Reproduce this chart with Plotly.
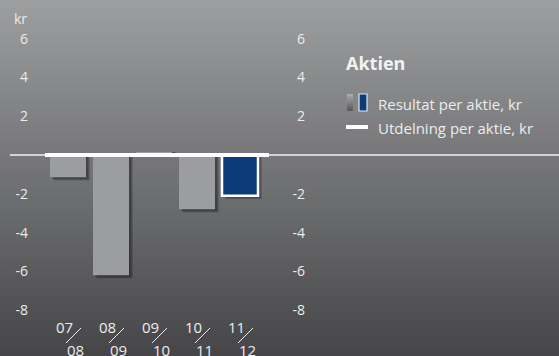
import plotly.graph_objects as go

# ---- data ----
categories = ["07/08", "08/09", "09/10", "10/11", "11/12"]
eps = [-1.15, -6.2, 0.15, -2.8, -2.1]          # Resultat per aktie, kr
dividend = [0, 0, 0, 0, 0]                      # Utdelning per aktie, kr
y_ticks = [6, 4, 2, -2, -4, -6, -8]
y_tick_labels = ["6", "4", "2", "-2", "-4", "-6", "-8"]
unit_label = "kr"
legend_title = "Aktien"
legend_labels = ["Resultat per aktie, kr", "Utdelning per aktie, kr"]

# ---- geometry / style ----
W, H = 559, 356
FONT = "Open Sans"
TXT = "#ececec"
px_x = 43.0
c0 = 68.0
xr = [-c0 / px_x, (W - c0) / px_x]
zero_px = 155.0
px_y = 19.4
yr = [-(H - zero_px) / px_y, zero_px / px_y]
bar_w = 36 / px_x

n = len(categories)
xs = list(range(n))
gray = "#9c9da0"
blue = "#0b3c7a"
colors = [gray] * (n - 1) + [blue]
line_w = [0] * (n - 1) + [2.5]

fig = go.Figure()

# soft shadow behind bars
sh = 3.5 / px_x
fig.add_trace(go.Bar(
    x=xs, y=[v - 0.15 if v < 0 else v for v in eps], base=0,
    width=bar_w, offset=-bar_w / 2 + sh,
    marker=dict(color="rgba(20,20,22,0.35)", line=dict(width=0)),
    hoverinfo="skip", showlegend=False))
fig.add_trace(go.Bar(
    x=xs, y=[v - 0.08 if v < 0 else v for v in eps], base=0,
    width=bar_w, offset=-bar_w / 2 + sh * 0.5,
    marker=dict(color="rgba(20,20,22,0.25)", line=dict(width=0)),
    hoverinfo="skip", showlegend=False))

# EPS bars
fig.add_trace(go.Bar(
    x=xs, y=eps, base=0, width=bar_w, offset=-bar_w / 2,
    marker=dict(color=colors, line=dict(color="white", width=line_w)),
    showlegend=False, name=legend_labels[0]))

# dividend line (per-category segments), on y2 so that axis is drawn
dx, dy = [], []
for i, d in zip(xs, dividend):
    dx += [i - 0.535, i + 0.674, None]
    dy += [d, d, None]
fig.add_trace(go.Scatter(
    x=dx, y=dy, mode="lines", yaxis="y2",
    line=dict(color="white", width=4), showlegend=False, name=legend_labels[1]))

shapes = []
# background gradient
steps = 90
top = (157, 158, 160)
bot = (70, 70, 73)
for k in range(steps):
    t = (k + 0.5) / steps
    c = tuple(round(top[j] + (bot[j] - top[j]) * t) for j in range(3))
    shapes.append(dict(type="rect", xref="paper", yref="paper",
                       x0=0, x1=1, y0=1 - (k + 1) / steps - 0.002, y1=1 - k / steps,
                       fillcolor="rgb(%d,%d,%d)" % c, line=dict(width=0), layer="below"))
# thin zero line
shapes.append(dict(type="line", xref="paper", yref="y", x0=10 / W, x1=1, y0=0, y1=0,
                   line=dict(color="rgba(255,255,255,0.9)", width=1.5), layer="below"))

annotations = []
# category labels with slash
cat_font = dict(family=FONT, size=15, color=TXT)
for i, cat in zip(xs, categories):
    a, b = cat.split("/")
    annotations.append(dict(x=i, y=1 - 327 / H, xref="x", yref="paper", text=a,
                            showarrow=False, xshift=-3.5, font=cat_font,
                            xanchor="center", yanchor="middle"))
    annotations.append(dict(x=i, y=1 - 350 / H, xref="x", yref="paper", text=b,
                            showarrow=False, xshift=7.5, font=cat_font,
                            xanchor="center", yanchor="middle"))
    shapes.append(dict(type="line", xref="x", yref="paper",
                       x0=i - 2 / px_x, x1=i + 13 / px_x, y0=1 - 343 / H, y1=1 - 328 / H,
                       line=dict(color=TXT, width=1)))

# unit label
annotations.append(dict(x=12 / W, y=1 - 19 / H, xref="paper", yref="paper", text=unit_label,
                        showarrow=False, xanchor="left", yanchor="middle",
                        font=dict(family=FONT, size=14, color=TXT)))

# legend
annotations.append(dict(x=344 / W, y=1 - 63 / H, xref="paper", yref="paper",
                        text="<b>%s</b>" % legend_title, showarrow=False,
                        xanchor="left", yanchor="middle",
                        font=dict(family=FONT, size=18, color="#f2f2f2")))
for lbl, yc in zip(legend_labels, [104, 128]):
    annotations.append(dict(x=376 / W, y=1 - yc / H, xref="paper", yref="paper", text=lbl,
                            showarrow=False, xanchor="left", yanchor="middle",
                            font=dict(family=FONT, size=15, color=TXT)))
# gray gradient icon
gs = 8
for k in range(gs):
    t = (k + 0.5) / gs
    v = round(175 + (85 - 175) * t)
    shapes.append(dict(type="rect", xref="paper", yref="paper",
                       x0=347 / W, x1=353 / W,
                       y0=1 - (94 + 17 * (k + 1) / gs) / H, y1=1 - (94 + 17 * k / gs) / H,
                       fillcolor="rgb(%d,%d,%d)" % (v, v, v + 2), line=dict(width=0)))
shapes.append(dict(type="rect", xref="paper", yref="paper",
                   x0=359 / W, x1=367 / W, y0=1 - 111 / H, y1=1 - 94 / H,
                   fillcolor=blue, line=dict(color="#dfe6f0", width=1.2)))
shapes.append(dict(type="line", xref="paper", yref="paper",
                   x0=346 / W, x1=368 / W, y0=1 - 127 / H, y1=1 - 127 / H,
                   line=dict(color="white", width=4)))

axis_font = dict(family=FONT, size=14, color=TXT)
fig.update_layout(
    width=W, height=H,
    margin=dict(l=0, r=0, t=0, b=0),
    paper_bgcolor="rgb(115,116,118)", plot_bgcolor="rgba(0,0,0,0)",
    barmode="overlay",
    xaxis=dict(range=xr, domain=[0, 1], showticklabels=False, showgrid=False,
               zeroline=False, showline=False, fixedrange=True),
    yaxis=dict(range=yr, anchor="free", position=28 / W, side="left",
               tickvals=y_ticks, ticktext=y_tick_labels, ticks="",
               showgrid=False, zeroline=False, showline=False, tickfont=axis_font),
    yaxis2=dict(range=yr, anchor="free", position=305 / W, side="left", overlaying="y",
                tickvals=y_ticks, ticktext=y_tick_labels, ticks="",
                showgrid=False, zeroline=False, showline=False, tickfont=axis_font),
    shapes=shapes, annotations=annotations,
    showlegend=False,
)

fig.write_html("out.html")
